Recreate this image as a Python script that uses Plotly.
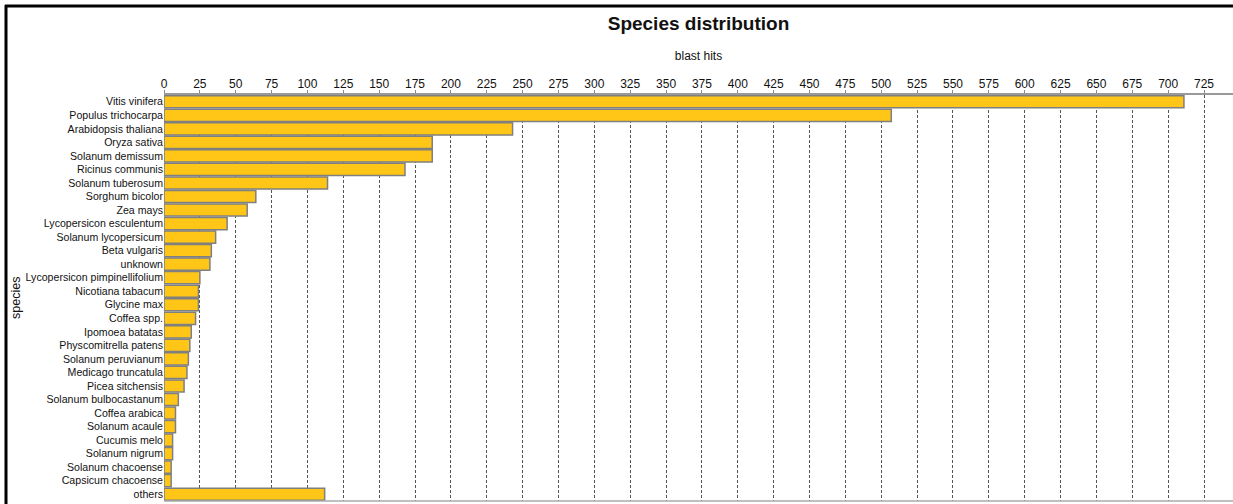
import plotly.graph_objects as go

species = [
    "Vitis vinifera", "Populus trichocarpa", "Arabidopsis thaliana", "Oryza sativa",
    "Solanum demissum", "Ricinus communis", "Solanum tuberosum", "Sorghum bicolor",
    "Zea mays", "Lycopersicon esculentum", "Solanum lycopersicum", "Beta vulgaris",
    "unknown", "Lycopersicon pimpinellifolium", "Nicotiana tabacum", "Glycine max",
    "Coffea spp.", "Ipomoea batatas", "Physcomitrella patens", "Solanum peruvianum",
    "Medicago truncatula", "Picea sitchensis", "Solanum bulbocastanum", "Coffea arabica",
    "Solanum acaule", "Cucumis melo", "Solanum nigrum", "Solanum chacoense",
    "Capsicum chacoense", "others",
]
blast_hits = [
    711, 507, 243, 187, 187, 168, 114, 64, 58, 44, 36, 33, 32, 25, 24, 24,
    22, 19, 18, 17, 16, 14, 10, 8, 8, 6, 6, 5, 5, 112,
]
tick_values = list(range(0, 726, 25))

FONT = "Liberation Sans, Arial, sans-serif"

fig = go.Figure(go.Bar(
    x=blast_hits, y=species, orientation="h",
    marker=dict(color="#FFC617", line=dict(color="#7f7f7f", width=1.5)),
))

W, H = 1233, 504
L, R, T, B = 164, 0, 95, 3
pw, ph = W - L - R, H - T - B

def px(x):
    return (x - L) / pw

def py(y):
    return (H - B - y) / ph

fig.update_layout(
    width=W, height=H,
    margin=dict(l=L, r=R, t=T, b=B),
    paper_bgcolor="white", plot_bgcolor="white",
    font=dict(family=FONT, size=12, color="#111"),
    title=dict(text="<b>Species distribution</b>", x=0.5, xref="paper",
               xanchor="center", y=1 - 23 / H, yanchor="middle",
               font=dict(family=FONT, size=19, color="#111")),
    bargap=0.1,
    showlegend=False,
    xaxis=dict(
        side="top", range=[0, (W - L - R) / 1.4345],
        tickvals=tick_values, ticks="outside", ticklen=3, tickcolor="#888",
        ticklabelstandoff=-3,
        showline=True, linecolor="#999", linewidth=1.5,
        showgrid=True, gridcolor="#555", griddash="3px,2px", gridwidth=1,
        zeroline=False,
        title=dict(text="blast hits", standoff=14, font=dict(size=12)),
        tickfont=dict(size=12),
    ),
    yaxis=dict(
        autorange="reversed", showgrid=False, zeroline=False, showline=False,
        tickmode="array", tickvals=species, ticktext=species,
        ticks="", ticklen=0,
        tickfont=dict(size=10.6),
    ),
    annotations=[
        dict(text="species", textangle=-90, xref="paper", yref="paper",
             x=px(16), y=py(298), xanchor="center", yanchor="middle",
             showarrow=False, font=dict(size=12.5, color="#111")),
    ],
    shapes=[
        dict(type="line", xref="paper", yref="paper", x0=px(6), x1=px(6),
             y0=py(5), y1=py(H + 5), line=dict(color="black", width=3)),
        dict(type="line", xref="paper", yref="paper", x0=px(5), x1=px(W + 5),
             y0=py(6), y1=py(6), line=dict(color="black", width=3)),
        dict(type="line", xref="paper", yref="paper", x0=0, x1=1,
             y0=0, y1=0, line=dict(color="#aaa", width=1.5)),
    ],
)

fig.write_html("out.html", config={"displayModeBar": False},
               post_script="document.body.style.margin='0';document.body.style.overflow='hidden';")
